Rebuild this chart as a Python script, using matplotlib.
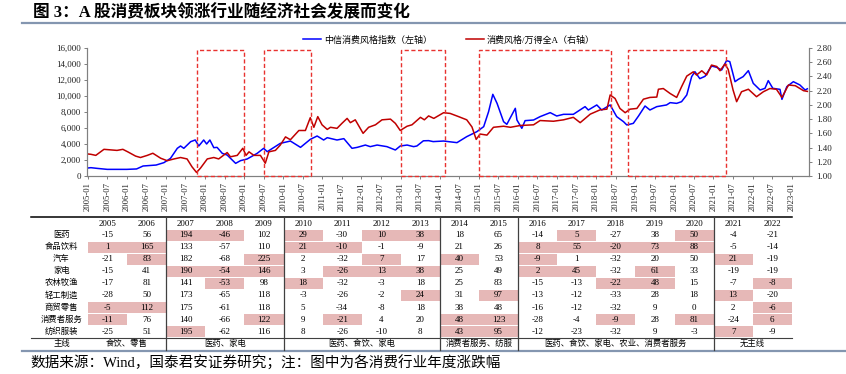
import matplotlib
matplotlib.use('Agg')
import matplotlib.pyplot as plt
from matplotlib.patches import Rectangle
from matplotlib.lines import Line2D
import matplotlib.ticker as mticker

plt.rcParams['font.family'] = ['Liberation Serif', 'Noto Sans CJK SC', 'DejaVu Sans']

# ---------------- data ----------------
# months since 2005-01
blue_m = [0, 1, 3, 6, 12, 15, 17, 21, 23.4, 25.4, 27.5, 28.5, 29.5, 31.6, 33, 34.1, 35.6, 36.5, 37.5,
          38.7, 39.7, 41.3, 42.8, 45.4, 46.9, 48.9, 52, 54, 55.1, 59.1, 62.2, 65.3, 68.3, 70.4, 72.4,
          73.5, 76.5, 78.6, 81.1, 82.7, 85.2, 86.7, 88.8, 91.8, 94.4, 95.9, 98, 100, 101, 103, 104.6,
          106, 109.2, 113.3, 116.3, 119.4, 121.5, 123, 124.3, 125.6, 127.6, 128.6, 131.2, 131.7, 133.2,
          134.2, 136.8, 138.8, 141.9, 143.9, 146, 149, 152.6, 153.6, 156.2, 157.7, 160.3, 162.3, 164.4,
          165.4, 167.4, 169, 171, 172.5, 174.6, 177.6, 178.7, 180.7, 182.2, 183.8, 185.3, 186.3, 187.8,
          189.4, 191.4, 193, 194.5, 196, 197, 198.6, 199.6, 201.1, 202.7, 204.2, 206.3, 207.8, 208.8,
          210.2, 212.4, 213, 214.5, 216.5, 218.5, 220.1, 220.8]
blue_v = [1000, 1040, 950, 830, 830, 880, 1250, 1370, 1670, 2200, 3460, 3750, 3460, 4290, 4500, 3750, 4500, 4000, 4500,
          3540, 3580, 2830, 2620, 1580, 1920, 2120, 2830, 3460, 3040, 4080, 4370, 3580, 4580, 5000, 4500,
          4790, 4500, 4670, 3460, 3580, 3870, 3670, 3870, 3670, 3250, 3750, 3870, 3670, 3750, 4400, 4420,
          4300, 4370, 4170, 4920, 5540, 6170, 8040, 10210, 9080, 6790, 6460, 8460, 7000, 5960,
          6920, 7000, 7420, 7920, 7500, 7710, 7710, 8670, 8250, 8880, 8250, 8880, 7420, 6790,
          6380, 6580, 7500, 8750, 8250, 8670, 8880, 9170, 9080, 9290, 10130, 12420, 13040, 12170,
          12460, 13750, 13580, 13250, 14420, 14300, 11790, 12080, 12420, 13170, 11580, 10750, 10960, 11920,
          10960, 10830, 9580, 11170, 11790, 11380, 10750, 10900]

red_m = [0, 1, 2.5, 5, 9, 10.8, 12.3, 14.7, 16.2, 18.3, 20, 22.4, 24.4, 26.5, 28.5, 30.5, 32, 33.4, 34.6,
         36.7, 38.7, 40.2, 42.8, 43.8, 45.9, 47.6, 48.6, 49.5, 51, 53, 54.5, 55.6, 57.6, 59.1, 60.7, 62.2,
         64.8, 66.8, 68.3, 69.4, 70.6, 71.9, 73.5, 74.5, 76.5, 78, 79.6, 80.6, 82.1, 84.5, 86.2, 88.3,
         90.3, 92.9, 94.4, 95.9, 98, 99.5, 102.1, 103.3, 104.6, 106.2, 109.2, 111.2, 113.8, 116.3, 117.9,
         119.2, 120.4, 122.5, 124.5, 127.6, 129.7, 132.7, 136.8, 138.8, 142.9, 146, 149, 151.1, 154.2,
         157.2, 159.3, 160.3, 161.8, 163.3, 164.9, 166.4, 168.5, 170.5, 172.5, 174.6, 175.1, 176.6, 178.7,
         180.7, 182.2, 183.8, 185.8, 186.8, 188.4, 189.9, 191.4, 193, 194, 195.5, 196.5, 198, 199.1,
         200.6, 202.7, 205.2, 207.3, 209.3, 211.3, 213, 215, 217.1, 219.6, 220.8]
red_v = [1.31, 1.305, 1.29, 1.375, 1.36, 1.375, 1.34, 1.28, 1.26, 1.29, 1.32, 1.25, 1.215, 1.24, 1.26, 1.24, 1.13, 1.05, 1.11,
         1.24, 1.26, 1.24, 1.33, 1.27, 1.29, 1.39, 1.29, 1.34, 1.29, 1.29, 1.18, 1.34, 1.36, 1.435, 1.55, 1.51,
         1.64, 1.64, 1.82, 1.685, 1.835, 1.72, 1.655, 1.685, 1.67, 1.74, 1.81, 1.75, 1.79, 1.60, 1.685, 1.72,
         1.79, 1.80, 1.74, 1.64, 1.70, 1.72, 1.825, 1.79, 1.845, 1.81, 1.89, 1.88, 1.835, 1.79, 1.69,
         1.515, 1.59, 1.575, 1.685, 1.70, 1.685, 1.71, 1.72, 1.78, 1.77, 1.79, 1.825, 1.75, 1.87,
         1.93, 1.94, 2.14, 2.09, 1.95, 1.89, 1.94, 1.95, 2.08, 2.105, 2.11, 2.22, 2.23, 2.16,
         2.105, 2.255, 2.405, 2.465, 2.42, 2.48, 2.42, 2.56, 2.54, 2.48, 2.575, 2.50, 2.21, 2.045,
         2.185, 2.22, 2.115, 2.185, 2.23, 2.22, 2.105, 2.28, 2.27, 2.20, 2.19]

periods = [(33.6, 48.0), (54.1, 68.5), (96.1, 109.6), (120.0, 160.7), (165.9, 195.9)]

tick_labels = [f'{y}-{m:02d}' for y in range(2005, 2024) for m in (1, 7)][:-1]
tick_pos = [6 * i for i in range(len(tick_labels))]

years = [str(y) for y in range(2005, 2023)]
industries = ['医药', '食品饮料', '汽车', '家电', '农林牧渔', '轻工制造', '商贸零售', '消费者服务', '纺织服装']
returns = [
    [-15, 56, 194, -46, 102, 29, -30, 10, 38, 18, 65, -14, 5, -27, 38, 50, -4, -21],
    [1, 165, 133, -57, 110, 21, -10, -1, -9, 21, 26, 8, 55, -20, 73, 88, -5, -14],
    [-21, 83, 182, -68, 225, 2, -32, 7, 17, 40, 53, -9, 1, -32, 20, 50, 21, -19],
    [-15, 41, 190, -54, 146, 3, -26, 13, 38, 25, 49, 2, 45, -32, 61, 33, -19, -19],
    [-17, 81, 141, -53, 98, 18, -32, -3, 18, 25, 83, -15, -13, -22, 48, 15, -7, -8],
    [-28, 50, 173, -65, 118, -3, -26, -2, 24, 31, 97, -13, -12, -33, 28, 18, 13, -20],
    [-5, 112, 175, -61, 118, 5, -34, -8, 18, 38, 48, -16, -12, -32, 9, 0, 2, -6],
    [-11, 76, 140, -66, 122, 9, -21, 4, 20, 48, 123, -28, -4, -9, 28, 81, -24, 6],
    [-25, 51, 195, -62, 116, 8, -26, -10, 8, 43, 95, -12, -23, -32, 9, -3, 7, -9],
]
leading = [
    [0, 0, 1, 1, 0, 1, 0, 1, 1, 0, 0, 0, 1, 0, 0, 1, 0, 0],
    [1, 1, 0, 0, 0, 1, 1, 0, 0, 0, 0, 1, 1, 1, 1, 1, 0, 0],
    [0, 1, 0, 0, 1, 0, 0, 1, 0, 1, 0, 1, 0, 0, 0, 0, 1, 0],
    [0, 0, 1, 1, 1, 0, 1, 1, 1, 0, 0, 1, 1, 0, 1, 0, 0, 0],
    [0, 0, 0, 1, 0, 1, 0, 0, 0, 0, 0, 0, 0, 1, 1, 0, 0, 1],
    [0, 0, 0, 0, 0, 0, 0, 0, 1, 0, 1, 0, 0, 0, 0, 0, 1, 0],
    [1, 1, 0, 0, 0, 0, 0, 0, 0, 0, 0, 0, 0, 0, 0, 0, 0, 1],
    [1, 0, 0, 0, 1, 0, 1, 0, 0, 1, 1, 0, 0, 1, 0, 1, 0, 1],
    [0, 0, 1, 0, 0, 0, 0, 0, 0, 1, 1, 0, 0, 0, 0, 0, 1, 0],
]
themes = [(0, 1, '食饮、零售'), (2, 4, '医药、家电'), (5, 8, '医药、食饮、家电'),
          (9, 10, '消费者服务、纺服'), (11, 15, '医药、食饮、家电、农业、消费者服务'), (16, 17, '无主线')]

# ---------------- figure ----------------
W, H = 846, 374
fig = plt.figure(figsize=(W / 100, H / 100), dpi=100)

def fx(px):
    return px / W

def fy(py):
    return 1 - py / H

ov = fig.add_axes([0, 0, 1, 1])
ov.set_xlim(0, W)
ov.set_ylim(H, 0)
ov.axis('off')

ax = fig.add_axes([fx(87), fy(176), (809 - 87) / W, 128 / H])
ax2 = ax.twinx()

BLUE = '#0000FF'
RED = '#C00000'
GRAY = '#808080'

l1, = ax.plot(blue_m, blue_v, color=BLUE, lw=1.1, label='中信消费风格指数（左轴）')
l2, = ax2.plot(red_m, red_v, color=RED, lw=1.1, label='消费风格/万得全A（右轴）')

for s, e in periods:
    ax2.add_patch(Rectangle((s, 0), e - s, 0.985, transform=ax2.get_xaxis_transform(),
                            fill=False, ec='#E8322F', lw=1.0, ls=(0, (3, 1.8)), clip_on=False, zorder=5))

ax.set_xlim(-0.2, 221.3)
ax.set_ylim(0, 16000)
ax2.set_ylim(1.0, 2.8)
ax.set_yticks(range(0, 16001, 2000))
ax.yaxis.set_major_formatter(mticker.FuncFormatter(lambda v, p: f'{int(v):,}'))
ax2.set_yticks([1.0 + 0.2 * i for i in range(10)])
ax2.yaxis.set_major_formatter(mticker.FormatStrFormatter('%.2f'))
ax.set_xticks(tick_pos)
ax.set_xticklabels(tick_labels, rotation=90)

for a in (ax, ax2):
    a.spines['top'].set_visible(False)
    for sp in ('left', 'right', 'bottom'):
        a.spines[sp].set_color(GRAY)
        a.spines[sp].set_linewidth(0.8)
    a.tick_params(colors=GRAY, labelcolor='#222222', length=2.5, width=0.7, labelsize=6.5)
ax.tick_params(axis='x', labelsize=6.2, pad=2)
ax.tick_params(axis='y', pad=2)
ax2.tick_params(axis='y', pad=3)
ax.patch.set_alpha(0)

leg = ax2.legend(handles=[l1, l2], loc='center', bbox_to_anchor=(fx(449), fy(40)),
                 bbox_transform=fig.transFigure, ncol=2, frameon=False, fontsize=6.5,
                 handlelength=2.0, handletextpad=0.3, columnspacing=3.8, borderpad=0)

# ---------------- title / lines / footer ----------------
fig.text(fx(33), fy(13), '图 3：A 股消费板块领涨行业随经济社会发展而变化', fontsize=12,
         fontweight='bold', va='center', ha='left')
LINEC = '#8496B0'
ov.add_line(Line2D([22, 846], [22.5, 22.5], color=LINEC, lw=1.6))
ov.add_line(Line2D([22, 846], [351, 351], color=LINEC, lw=1.6))
fig.text(fx(30), fy(363), '数据来源：Wind，国泰君安证券研究；注：图中为各消费行业年度涨跌幅',
         fontsize=10.5, va='center', ha='left')

# ---------------- table ----------------
T_LEFT, LAB_RIGHT, COLW = 31, 88, 39.1
T_RIGHT = LAB_RIGHT + COLW * len(years)
Y_TOP, Y_HEAD, Y_ROW0, ROWH, Y_SEP, Y_THEME = 217, 223.5, 235.2, 12.05, 337.5, 343.5
PINK = '#E6B8B7'

def colx(i):
    return LAB_RIGHT + COLW * i

for j, yr in enumerate(years):
    ov.text(colx(j) + COLW / 2, Y_HEAD, yr, ha='center', va='center', fontsize=6.3)

for r, name in enumerate(industries):
    yc = Y_ROW0 + ROWH * r
    ov.text((T_LEFT + LAB_RIGHT) / 2 + 2, yc, name, ha='center', va='center', fontsize=6)
    for j, v in enumerate(returns[r]):
        if leading[r][j]:
            ov.add_patch(Rectangle((colx(j), yc - ROWH / 2 + 0.4), COLW, ROWH - 0.8,
                                   fc=PINK, ec='none', zorder=1))
        ov.text(colx(j) + COLW / 2, yc, str(v), ha='center', va='center', fontsize=6.5, zorder=2)

ov.text((T_LEFT + LAB_RIGHT) / 2 + 2, Y_THEME, '主线', ha='center', va='center', fontsize=6)
for a, b, lab in themes:
    ov.text((colx(a) + colx(b + 1)) / 2, Y_THEME, lab, ha='center', va='center', fontsize=6)

ov.add_line(Line2D([T_LEFT, T_RIGHT], [Y_TOP, Y_TOP], color='black', lw=1.1))
ov.add_line(Line2D([T_LEFT, T_RIGHT], [Y_SEP, Y_SEP], color='#404040', lw=0.8))
for a, b, lab in themes[:-1]:
    xs = colx(b + 1)
    ov.add_line(Line2D([xs, xs], [Y_TOP, 350], color='#404040', lw=0.9))

fig.savefig('out.png', dpi=100)
